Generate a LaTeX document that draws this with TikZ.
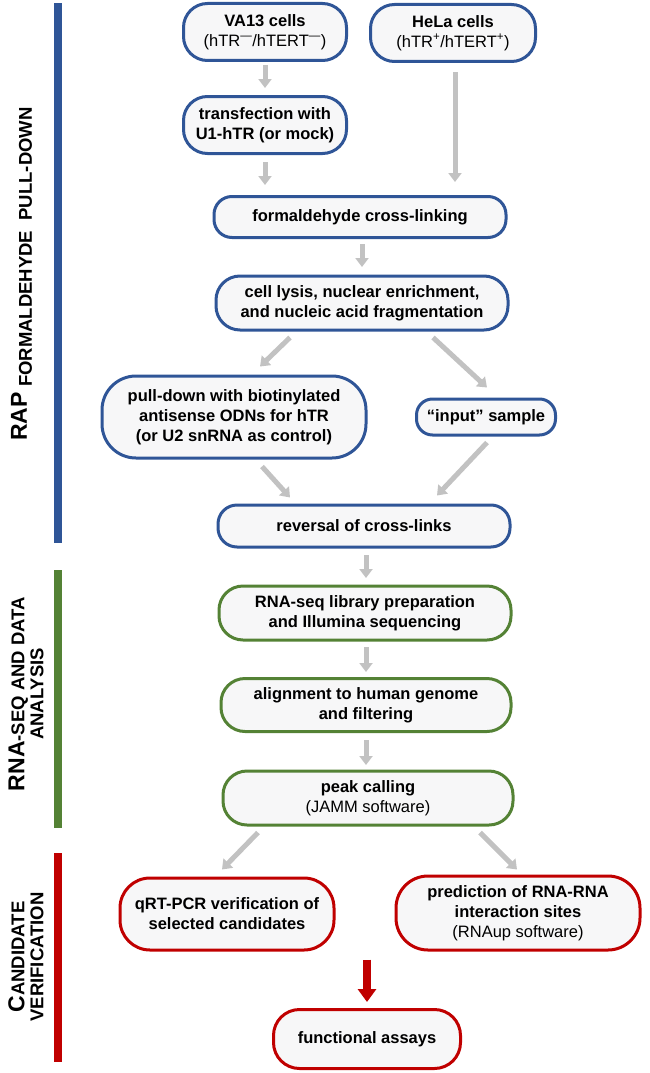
\documentclass[tikz,border=0pt]{standalone}
\usepackage{fontspec}
\setmainfont{Liberation Sans}
\usetikzlibrary{arrows.meta,calc}
\definecolor{cblue}{HTML}{2F5597}
\definecolor{cgreen}{HTML}{548235}
\definecolor{cred}{HTML}{C00000}
\definecolor{cfill}{HTML}{F7F7F8}
\definecolor{carrow}{HTML}{C2C2C2}
\begin{document}
\begin{tikzpicture}[x=1pt,y=1pt,
  box/.style={draw, line width=3pt, fill=cfill, align=center, inner sep=0pt,
    font=\fontsize{16.5}{20}\selectfont\bfseries},
  bluebox/.style={box, draw=cblue},
  greenbox/.style={box, draw=cgreen},
  redbox/.style={box, draw=cred},
  garrow/.style={draw=carrow, line width=5pt, -{Triangle[length=9pt,width=13pt]}},
  rarrow/.style={draw=cred, line width=8pt, -{Triangle[length=13pt,width=18pt]}},
  sidelabel/.style={rotate=90, inner sep=0pt, font=\bfseries\fontsize{18.5}{19}\selectfont},
]
\useasboundingbox (0,0) rectangle (649,-1073);

% side bars
\fill[cblue] (54,-3) rectangle (62,-543);
\fill[cgreen] (54,-570) rectangle (62,-828);
\fill[cred] (54,-853) rectangle (62,-1062);

% side labels
\node[sidelabel, anchor=base] (lab1) at (27,-274)
  {{\fontsize{23}{23}\selectfont RAP} \raisebox{-5pt}{FORMALDEHYDE\ \ PULL-DOWN}};
\node[sidelabel, align=center] (lab2) at (26,-694)
  {{\fontsize{23}{19}\selectfont RNA}-SEQ AND DATA\\ANALYSIS};
\node[sidelabel, align=center] (lab3) at (26,-957)
  {{\fontsize{23}{19}\selectfont C}ANDIDATE\\VERIFICATION};

% boxes
\node[bluebox, minimum width=163pt, minimum height=57pt, rounded corners=24pt] (va13) at (265,-32)
  {VA13 cells\\\mdseries(hTR\textsuperscript{—}/hTERT\textsuperscript{—})};
\node[bluebox, minimum width=165pt, minimum height=57pt, rounded corners=24pt] (hela) at (453,-33)
  {HeLa cells\\\mdseries(hTR\textsuperscript{+}/hTERT\textsuperscript{+})};
\node[bluebox, minimum width=163pt, minimum height=57pt, rounded corners=24pt] (transf) at (265,-125)
  {transfection with\\U1-hTR (or mock)};
\node[bluebox, minimum width=292pt, minimum height=41pt, rounded corners=18pt] (formal) at (360,-217)
  {formaldehyde cross-linking};
\node[bluebox, minimum width=292pt, minimum height=54pt, rounded corners=24pt] (lysis) at (362,-303)
  {cell lysis, nuclear enrichment,\\and nucleic acid fragmentation};
\node[bluebox, minimum width=264pt, minimum height=82pt, rounded corners=34pt] (pull) at (234,-417)
  {pull-down with biotinylated\\antisense ODNs for hTR\\(or U2 snRNA as control)};
\node[bluebox, minimum width=139pt, minimum height=36pt, rounded corners=16pt] (input) at (486,-417)
  {“input” sample};
\node[bluebox, minimum width=292pt, minimum height=42pt, rounded corners=19pt] (rev) at (364,-526)
  {reversal of cross-links};
\node[greenbox, minimum width=292pt, minimum height=54pt, rounded corners=24pt] (rnaseq) at (365,-613)
  {RNA-seq library preparation\\and Illumina sequencing};
\node[greenbox, minimum width=290pt, minimum height=53pt, rounded corners=24pt] (align) at (366,-705)
  {alignment to human genome\\and filtering};
\node[greenbox, minimum width=290pt, minimum height=54pt, rounded corners=24pt] (peak) at (368,-798)
  {peak calling\\\mdseries(JAMM software)};
\node[redbox, minimum width=214pt, minimum height=72pt, rounded corners=30pt] (qrt) at (227,-914)
  {qRT-PCR verification of\\selected candidates};
\node[redbox, minimum width=244pt, minimum height=74pt, rounded corners=32pt] (pred) at (518,-913)
  {prediction of RNA-RNA\\interaction sites\\\mdseries(RNAup software)};
\node[redbox, minimum width=187pt, minimum height=59pt, rounded corners=26pt] (func) at (367,-1039)
  {functional assays};

% arrows
\draw[garrow, shorten <=3pt, shorten >=7pt] (va13.south) -- (transf.north);
\draw[garrow, shorten <=7pt, shorten >=10pt] (transf.south) -- (transf.south |- formal.north);
\draw[garrow, shorten <=9pt, shorten >=13pt] ([xshift=2pt]hela.south) -- ([xshift=2pt]hela.south |- formal.north);
\draw[garrow, shorten <=5pt, shorten >=7.5pt] ([xshift=2pt]formal.south) -- ([xshift=2pt]formal.south |- lysis.north);
\draw[garrow] ($(lysis.south)+(-72,-6)$) -- ($(pull.north)+(26,8)$);
\draw[garrow] ($(lysis.south)+(71,-6)$) -- ($(input.north)+(1,10)$);
\draw[garrow] ($(pull.south)+(28,-7)$) -- ($(rev.north)+(-74,6)$);
\draw[garrow] ($(input.south)+(1,-6)$) -- ($(rev.north)+(73,8)$);
\draw[garrow, shorten <=6.5pt, shorten >=6.5pt] ([xshift=2pt]rev.south) -- ([xshift=2pt]rev.south |- rnaseq.north);
\draw[garrow, shorten <=5.5pt, shorten >=5pt] ([xshift=1pt]rnaseq.south) -- ([xshift=1pt]rnaseq.south |- align.north);
\draw[garrow, shorten <=7pt, shorten >=4.5pt] (align.south) -- (align.south |- peak.north);
\draw[garrow] ($(peak.south)+(-110,-6)$) -- ($(qrt.north)+(-5,7)$);
\draw[garrow] ($(peak.south)+(112,-6)$) -- ($(pred.north)+(-1,5)$);
\draw[rarrow, shorten <=8pt, shorten >=6pt] (qrt.south -| func.north) -- (func.north);
\end{tikzpicture}
\end{document}
